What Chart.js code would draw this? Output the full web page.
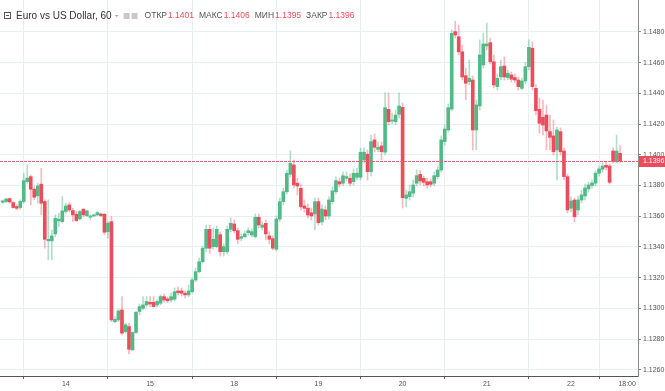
<!DOCTYPE html>
<html>
<head>
<meta charset="utf-8">
<script src="https://cdn.jsdelivr.net/npm/chart.js@4/dist/chart.umd.min.js"></script>
<style>
body{margin:0;background:#fff;}
#wrap{width:665px;height:391px;position:relative;}
</style>
</head>
<body>
<div id="wrap"><canvas id="myChart"></canvas></div>
<script>
// hourly EUR/USD candles
var opens = [1.13691,1.13696,1.13715,1.13689,1.13663,1.13657,1.13696,1.13826,1.13858,1.13776,
1.13733,1.13809,1.13696,1.13440,1.13440,1.13485,1.13570,1.13565,1.13631,1.13674,
1.13637,1.13613,1.13583,1.13646,1.13604,1.13594,1.13602,1.13609,1.13615,1.13613,
1.13500,1.13565,1.12914,1.12925,1.12990,1.12849,1.12882,1.12730,1.12843,1.12980,
1.13001,1.13023,1.13040,1.13040,1.13023,1.13034,1.13077,1.13062,1.13055,1.13060,
1.13114,1.13114,1.13099,1.13088,1.13109,1.13185,1.13239,1.13304,1.13392,1.13515,
1.13402,1.13402,1.13480,1.13369,1.13369,1.13515,1.13550,1.13506,1.13457,1.13467,
1.13493,1.13478,1.13467,1.13593,1.13528,1.13554,1.13472,1.13454,1.13385,1.13582,
1.13695,1.13760,1.13873,1.13934,1.13815,1.13782,1.13667,1.13652,1.13623,1.13615,
1.13695,1.13563,1.13641,1.13602,1.13695,1.13760,1.13825,1.13815,1.13847,1.13847,
1.13825,1.13854,1.13854,1.13966,1.14004,1.13890,1.14097,1.14036,1.14058,1.14017,
1.14296,1.14220,1.14216,1.14264,1.14309,1.13717,1.13728,1.13750,1.13815,1.13873,
1.13847,1.13825,1.13825,1.13815,1.13858,1.13901,1.14086,1.14162,1.14298,1.14802,
1.14769,1.14671,1.14515,1.14476,1.14487,1.14162,1.14318,1.14585,1.14709,1.14730,
1.14606,1.14444,1.14507,1.14578,1.14503,1.14520,1.14503,1.14487,1.14433,1.14481,
1.14574,1.14694,1.14433,1.14296,1.14244,1.14259,1.14151,1.14123,1.14032,1.14151,
1.14025,1.13858,1.13652,1.13706,1.13641,1.13706,1.13732,1.13778,1.13800,1.13815,
1.13880,1.13906,1.13932,1.13927,1.14025,1.13955,1.14010];
var highs = [1.13707,1.13717,1.13719,1.13696,1.13674,1.13707,1.13880,1.13934,1.13869,1.13793,
1.13815,1.13913,1.13707,1.13707,1.13511,1.13609,1.13620,1.13728,1.13685,1.13689,
1.13652,1.13631,1.13641,1.13652,1.13641,1.13609,1.13615,1.13631,1.13620,1.13620,
1.13565,1.13598,1.12947,1.12995,1.13077,1.12904,1.12904,1.12849,1.12980,1.13029,
1.13077,1.13077,1.13077,1.13077,1.13056,1.13088,1.13094,1.13074,1.13101,1.13133,
1.13140,1.13133,1.13114,1.13153,1.13198,1.13263,1.13328,1.13407,1.13543,1.13543,
1.13524,1.13537,1.13498,1.13420,1.13537,1.13589,1.13576,1.13524,1.13485,1.13504,
1.13524,1.13517,1.13615,1.13615,1.13563,1.13576,1.13498,1.13472,1.13602,1.13719,
1.13784,1.13901,1.14027,1.13966,1.13849,1.13804,1.13706,1.13680,1.13654,1.13719,
1.13719,1.13673,1.13667,1.13726,1.13791,1.13856,1.13849,1.13888,1.13888,1.13875,
1.13908,1.13914,1.14045,1.14045,1.14032,1.14129,1.14136,1.14084,1.14084,1.14403,
1.14403,1.14272,1.14292,1.14403,1.14337,1.13771,1.13804,1.13836,1.13901,1.13895,
1.13862,1.13849,1.13843,1.13888,1.13927,1.14123,1.14194,1.14331,1.14813,1.14871,
1.14845,1.14715,1.14565,1.14617,1.14513,1.14357,1.14748,1.14793,1.14858,1.14761,
1.14650,1.14526,1.14617,1.14637,1.14552,1.14539,1.14526,1.14507,1.14500,1.14604,
1.14748,1.14735,1.14455,1.14370,1.14357,1.14324,1.14259,1.14227,1.14181,1.14175,
1.14045,1.13875,1.13726,1.13719,1.13732,1.13771,1.13810,1.13823,1.13836,1.13895,
1.13927,1.13947,1.13953,1.13940,1.14045,1.14129,1.14060];
var lows = [1.13685,1.13689,1.13685,1.13652,1.13641,1.13646,1.13685,1.13815,1.13674,1.13707,
1.13685,1.13609,1.13392,1.13316,1.13316,1.13468,1.13533,1.13555,1.13620,1.13631,
1.13565,1.13565,1.13576,1.13598,1.13598,1.13576,1.13598,1.13604,1.13598,1.13479,
1.13457,1.12914,1.12904,1.12914,1.12828,1.12839,1.12704,1.12726,1.12839,1.12958,
1.12990,1.13012,1.13012,1.13008,1.13012,1.13023,1.13042,1.13036,1.13042,1.13048,
1.13088,1.13081,1.13068,1.13074,1.13101,1.13172,1.13231,1.13296,1.13369,1.13359,
1.13387,1.13394,1.13341,1.13341,1.13355,1.13498,1.13491,1.13420,1.13439,1.13459,
1.13478,1.13465,1.13459,1.13524,1.13511,1.13446,1.13420,1.13381,1.13374,1.13563,
1.13673,1.13745,1.13856,1.13784,1.13739,1.13641,1.13628,1.13589,1.13576,1.13511,
1.13543,1.13543,1.13576,1.13582,1.13680,1.13745,1.13791,1.13797,1.13830,1.13797,
1.13804,1.13836,1.13836,1.13947,1.13836,1.13862,1.14019,1.14019,1.13966,1.13999,
1.14194,1.14201,1.14194,1.14240,1.13654,1.13661,1.13706,1.13726,1.13797,1.13804,
1.13797,1.13784,1.13791,1.13797,1.13843,1.13888,1.14064,1.14149,1.14285,1.14761,
1.14650,1.14487,1.14357,1.14455,1.14032,1.14032,1.14292,1.14565,1.14683,1.14591,
1.14435,1.14422,1.14487,1.14487,1.14487,1.14474,1.14468,1.14422,1.14422,1.14461,
1.14552,1.14422,1.14259,1.14142,1.14129,1.14032,1.14032,1.13999,1.13836,1.13999,
1.13836,1.13621,1.13628,1.13565,1.13608,1.13687,1.13706,1.13758,1.13784,1.13797,
1.13862,1.13888,1.13901,1.13810,1.13947,1.13947,1.13950];
var closes = [1.13700,1.13713,1.13693,1.13657,1.13652,1.13696,1.13832,1.13848,1.13776,1.13724,
1.13798,1.13685,1.13450,1.13450,1.13472,1.13587,1.13581,1.13635,1.13667,1.13641,
1.13609,1.13572,1.13631,1.13609,1.13635,1.13602,1.13609,1.13624,1.13604,1.13496,
1.13555,1.12925,1.12930,1.12984,1.12839,1.12893,1.12734,1.12843,1.12975,1.13012,
1.13023,1.13045,1.13029,1.13012,1.13045,1.13077,1.13055,1.13050,1.13077,1.13109,
1.13103,1.13099,1.13088,1.13114,1.13185,1.13239,1.13304,1.13392,1.13515,1.13392,
1.13450,1.13515,1.13369,1.13402,1.13515,1.13554,1.13506,1.13450,1.13467,1.13485,
1.13506,1.13500,1.13593,1.13543,1.13543,1.13485,1.13450,1.13392,1.13582,1.13695,
1.13760,1.13880,1.13945,1.13804,1.13797,1.13662,1.13652,1.13608,1.13602,1.13695,
1.13558,1.13647,1.13602,1.13706,1.13765,1.13832,1.13810,1.13864,1.13858,1.13815,
1.13880,1.13880,1.14017,1.14017,1.13890,1.14086,1.14049,1.14049,1.14020,1.14307,
1.14216,1.14227,1.14259,1.14318,1.13721,1.13739,1.13760,1.13804,1.13864,1.13830,
1.13821,1.13804,1.13808,1.13864,1.13901,1.14097,1.14168,1.14307,1.14791,1.14780,
1.14671,1.14507,1.14466,1.14498,1.14162,1.14325,1.14650,1.14722,1.14722,1.14606,
1.14455,1.14498,1.14574,1.14507,1.14531,1.14492,1.14487,1.14444,1.14481,1.14574,
1.14700,1.14444,1.14287,1.14205,1.14194,1.14155,1.14114,1.14020,1.14162,1.14020,
1.13858,1.13641,1.13700,1.13597,1.13706,1.13739,1.13784,1.13804,1.13817,1.13880,
1.13908,1.13927,1.13919,1.13821,1.13955,1.14025,1.13960];

// x axis: candle index where each label sits
var dayTickIndex = [18, 42, 66, 90, 114, 138, 162, 178];
var dayTickLabels = ["14", "15", "18", "19", "20", "21", "22", "18:00"];
var priceTicks = [1.1260, 1.1280, 1.1300, 1.1320, 1.1340, 1.1360, 1.1380, 1.1400, 1.1420, 1.1440, 1.1460, 1.1480];

var upColor = "#53b987";
var downColor = "#eb4d5c";
var upWick = "rgba(83,185,135,0.45)";
var downWick = "rgba(235,77,92,0.4)";
var gridColor = "#e9eef3";

var bodies = opens.map(function(o, i){ return {x: i, y: [o, closes[i]]}; });
var wicks = opens.map(function(o, i){ return {x: i, y: [lows[i], highs[i]]}; });

function candleColor(ctx){
    var i = ctx.dataIndex;
    return closes[i] >= opens[i] ? upColor : downColor;
}
function wickColor(ctx){
    var i = ctx.dataIndex;
    return closes[i] >= opens[i] ? upWick : downWick;
}

var lastPrice = {
    id: "lastPrice",
    afterDatasetsDraw: function(chart){
        var c = chart.ctx, a = chart.chartArea;
        var last = closes[closes.length - 1];
        var y = Math.round(chart.scales.y.getPixelForValue(last));
        c.save();
        // dotted last-price line
        c.fillStyle = "#f06070";
        for (var x = a.left; x < a.right; x += 4) {
            c.fillRect(x, y, 3, 1);
        }
        c.fillStyle = downColor;
        c.fillRect(a.right + 1, y - 5, chart.width - a.right - 1, 11);
        c.fillStyle = "#fff";
        c.font = "7px 'Liberation Sans', Arial, sans-serif";
        c.textBaseline = "middle";
        c.fillText(last.toFixed(4), a.right + 5, y + 0.5);
        c.restore();
    }
};

var header = {
    id: "header",
    afterDraw: function(chart){
        var c = chart.ctx;
        var lastO = opens[opens.length - 1], lastH = highs[highs.length - 1];
        var lastL = lows[lows.length - 1], lastC = closes[closes.length - 1];
        c.save();
        c.textBaseline = "middle";
        // collapse icon
        c.strokeStyle = "#555";
        c.lineWidth = 1;
        c.strokeRect(4.5, 12.5, 6, 6);
        c.beginPath(); c.moveTo(6, 15.5); c.lineTo(9, 15.5); c.stroke();
        c.fillStyle = "#333";
        c.font = "10px 'Liberation Sans', Arial, sans-serif";
        c.fillText("Euro vs US Dollar, 60", 16, 16);
        var x = 16 + c.measureText("Euro vs US Dollar, 60").width + 3;
        c.fillStyle = "#aaa";
        c.beginPath(); c.moveTo(x, 15); c.lineTo(x + 4, 15); c.lineTo(x + 2, 17); c.fill();
        x += 9;
        c.fillStyle = "#c9c9c9";
        c.fillRect(x, 13, 6, 6);
        c.fillRect(x + 8, 13, 6, 6);
        x += 21;
        var parts = [["ОТКР", lastO], ["МАКС", lastH], ["МИН", lastL], ["ЗАКР", lastC]];
        c.font = "8.5px 'Liberation Sans', Arial, sans-serif";
        parts.forEach(function(p){
            c.fillStyle = "#555";
            c.fillText(p[0], x, 16);
            x += c.measureText(p[0]).width + 1;
            c.fillStyle = downColor;
            var t = p[1].toFixed(4);
            c.fillText(t, x, 16);
            x += c.measureText(t).width + 5;
        });
        c.restore();
    }
};

new Chart("myChart", {
    type: "bar",
    data: {
        datasets: [{
            data: bodies,
            backgroundColor: candleColor,
            barThickness: 3,
            minBarLength: 1,
            grouped: false,
            borderWidth: 0
        }, {
            data: wicks,
            backgroundColor: wickColor,
            barThickness: 1,
            grouped: false,
            borderWidth: 0
        }]
    },
    options: {
        responsive: true,
        maintainAspectRatio: false,
        animation: false,
        events: [],
        layout: {padding: 0},
        plugins: {legend: {display: false}, tooltip: {enabled: false}},
        scales: {
            x: {
                type: "linear",
                min: -0.77,
                max: 181.1,
                offset: false,
                grid: {color: gridColor, tickColor: "#666", tickLength: 3},
                border: {color: "#555"},
                ticks: {
                    font: {size: 7, family: "'Liberation Sans', Arial, sans-serif"},
                    color: "#555",
                    padding: 1,
                    autoSkip: false,
                    maxRotation: 0,
                    callback: function(v){ return dayTickLabels[dayTickIndex.indexOf(v)]; }
                },
                afterBuildTicks: function(scale){
                    scale.ticks = dayTickIndex.map(function(v){ return {value: v}; });
                },
                afterFit: function(scale){
                    scale.height = 15;
                    scale.paddingLeft = 0;
                    scale.paddingRight = 0;
                }
            },
            y: {
                position: "right",
                min: 1.12560,
                max: 1.15008,
                grid: {color: gridColor, tickColor: "#888", tickLength: 3},
                border: {color: "#888"},
                ticks: {
                    font: {size: 7, family: "'Liberation Sans', Arial, sans-serif"},
                    color: "#555",
                    padding: 2,
                    callback: function(v){ return v.toFixed(4); }
                },
                afterBuildTicks: function(scale){
                    scale.ticks = priceTicks.map(function(v){ return {value: v}; });
                },
                afterFit: function(scale){
                    scale.width = 27;
                    scale.paddingTop = 0;
                    scale.paddingBottom = 0;
                }
            }
        }
    },
    plugins: [lastPrice, header]
});
</script>
</body>
</html>
